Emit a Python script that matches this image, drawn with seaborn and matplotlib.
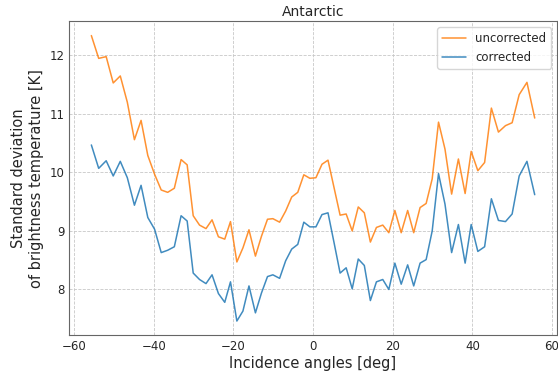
import numpy as np
import pandas as pd
import matplotlib
matplotlib.use("Agg")
import matplotlib.pyplot as plt
import seaborn as sns

angles = [-55.65, -53.81, -51.93, -50.16, -48.39, -46.62, -44.84, -43.17, -41.48, -39.78,
          -38.11, -36.49, -34.82, -33.12, -31.60, -30.08, -28.49, -26.87, -25.35, -23.75,
          -22.16, -20.72, -19.12, -17.60, -16.08, -14.46, -12.94, -11.43, -10.08, -8.39,
          -6.87, -5.35, -3.83, -2.31, -0.79, 0.73, 2.25, 3.76, 5.28, 6.80,
          8.32, 9.84, 11.36, 12.88, 14.40, 15.92, 17.51, 19.03, 20.55, 22.14,
          23.76, 25.28, 26.88, 28.40, 29.92, 31.51, 33.13, 34.80, 36.50, 38.19,
          39.71, 41.38, 43.08, 44.78, 46.55, 48.32, 49.99, 51.76, 53.71, 55.66]

uncorrected = [12.34, 11.95, 11.98, 11.53, 11.65, 11.20, 10.56, 10.89, 10.29, 9.97,
               9.70, 9.66, 9.73, 10.22, 10.13, 9.26, 9.10, 9.04, 9.19, 8.90,
               8.86, 9.16, 8.47, 8.71, 9.02, 8.57, 8.91, 9.20, 9.21, 9.15,
               9.34, 9.58, 9.66, 9.96, 9.90, 9.91, 10.14, 10.21, 9.74, 9.27,
               9.29, 9.00, 9.41, 9.31, 8.81, 9.06, 9.10, 8.97, 9.35, 8.97,
               9.35, 8.97, 9.40, 9.47, 9.89, 10.86, 10.40, 9.63, 10.23, 9.64,
               10.36, 10.03, 10.17, 11.10, 10.69, 10.80, 10.85, 11.33, 11.54, 10.93]

corrected = [10.47, 10.07, 10.20, 9.94, 10.19, 9.91, 9.44, 9.78, 9.23, 9.03,
             8.63, 8.67, 8.73, 9.26, 9.17, 8.28, 8.17, 8.10, 8.25, 7.93,
             7.78, 8.13, 7.46, 7.63, 8.06, 7.60, 7.94, 8.22, 8.25, 8.19,
             8.49, 8.69, 8.77, 9.15, 9.07, 9.07, 9.28, 9.31, 8.80, 8.28,
             8.37, 8.01, 8.52, 8.41, 7.81, 8.13, 8.17, 8.00, 8.45, 8.09,
             8.42, 8.06, 8.45, 8.51, 9.00, 9.98, 9.46, 8.63, 9.11, 8.45,
             9.11, 8.65, 8.73, 9.55, 9.18, 9.16, 9.29, 9.94, 10.19, 9.62]

series_names = ["uncorrected", "corrected"]
series_colors = ["#ff7f0e", "#1f77b4"]

df = pd.concat([
    pd.DataFrame({"angle": angles, "std": uncorrected, "series": series_names[0]}),
    pd.DataFrame({"angle": angles, "std": corrected, "series": series_names[1]}),
], ignore_index=True)

sns.set_style("whitegrid")
plt.rcParams["font.family"] = ["DejaVu Sans"]

fig, ax = plt.subplots(figsize=(5.58, 3.71), dpi=100)
sns.lineplot(data=df, x="angle", y="std", hue="series", hue_order=series_names,
             palette=series_colors, linewidth=1.1, alpha=0.85, ax=ax)

ax.grid(True, linestyle="--", color="#c8c8c8", linewidth=0.6)
ax.set_title("Antarctic", fontsize=10, color="#262626", pad=4)
ax.set_xlabel("Incidence angles [deg]", fontsize=10.5, color="#262626", labelpad=2)
ax.set_ylabel("Standard deviation\nof brightness temperature [K]", fontsize=10.5,
              color="#262626", labelpad=4)
ax.set_xticks([-60, -40, -20, 0, 20, 40, 60])
ax.set_yticks([8, 9, 10, 11, 12])
ax.tick_params(labelsize=8.5, colors="#262626", length=0, pad=3.5)
for s in ax.spines.values():
    s.set_color("#666666")
    s.set_linewidth(0.8)
leg = ax.legend(loc="upper right", fontsize=8.5, title=None)

fig.subplots_adjust(left=0.124, right=0.998, top=0.9426, bottom=0.0962)
fig.savefig("out.png", dpi=100)
